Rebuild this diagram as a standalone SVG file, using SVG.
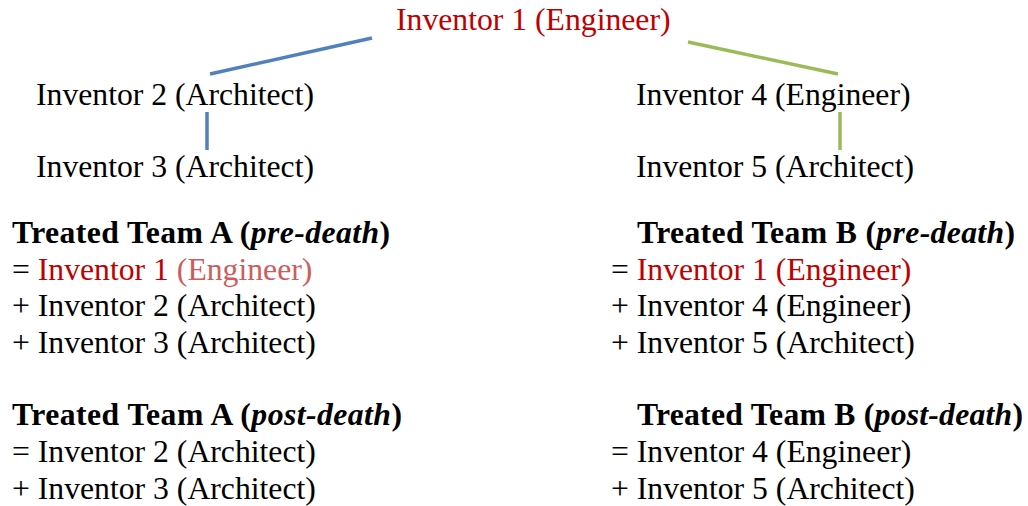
<svg xmlns="http://www.w3.org/2000/svg" width="1028" height="506" viewBox="0 0 1028 506">
<style>
text{font-family:"Liberation Serif","Times New Roman",serif;font-size:31.7px;fill:#000}
.red{fill:#C00000}
.pale{fill:#CD5C5C}
.b{font-weight:bold}
.bi{font-style:italic}
.blue{stroke:#4F81BD;stroke-width:3.5;fill:none}
.green{stroke:#9BBB59;stroke-width:3.5;fill:none}
</style>
<rect width="1028" height="506" fill="#fff"/>
<g id="connectors">
<line class="blue" x1="210" y1="74" x2="372" y2="38"/>
<line class="blue" x1="207" y1="112" x2="207" y2="150"/>
<line class="green" x1="688" y1="42" x2="838" y2="74"/>
<line class="green" x1="840" y1="112" x2="840" y2="150"/>
</g>
<g id="inventor1"><text x="396" y="30" class="red">Inventor 1 (Engineer)</text></g>
<g id="inventor2"><text x="36" y="105">Inventor 2 (Architect)</text></g>
<g id="inventor3"><text x="36" y="177">Inventor 3 (Architect)</text></g>
<g id="inventor4"><text x="636" y="105">Inventor 4 (Engineer)</text></g>
<g id="inventor5"><text x="636" y="177">Inventor 5 (Architect)</text></g>
<g id="teamA-pre">
<text x="12" y="243" class="b" textLength="378" lengthAdjust="spacing">Treated Team A (<tspan class="bi">pre-death</tspan>)</text>
<text x="12" y="280">= <tspan class="red">Inventor 1 </tspan><tspan class="pale">(Engineer)</tspan></text>
<text x="12" y="316">+ Inventor 2 (Architect)</text>
<text x="12" y="353">+ Inventor 3 (Architect)</text>
</g>
<g id="teamB-pre">
<text x="637" y="243" class="b" textLength="378" lengthAdjust="spacing">Treated Team B (<tspan class="bi">pre-death</tspan>)</text>
<text x="611" y="280">= <tspan class="red">Inventor 1 (Engineer)</tspan></text>
<text x="611" y="316">+ Inventor 4 (Engineer)</text>
<text x="611" y="353">+ Inventor 5 (Architect)</text>
</g>
<g id="teamA-post">
<text x="12" y="425" class="b" textLength="390" lengthAdjust="spacing">Treated Team A (<tspan class="bi">post-death</tspan>)</text>
<text x="12" y="462">= Inventor 2 (Architect)</text>
<text x="12" y="499">+ Inventor 3 (Architect)</text>
</g>
<g id="teamB-post">
<text x="637" y="425" class="b" textLength="386" lengthAdjust="spacing">Treated Team B (<tspan class="bi">post-death</tspan>)</text>
<text x="611" y="462">= Inventor 4 (Engineer)</text>
<text x="611" y="499">+ Inventor 5 (Architect)</text>
</g>
</svg>
